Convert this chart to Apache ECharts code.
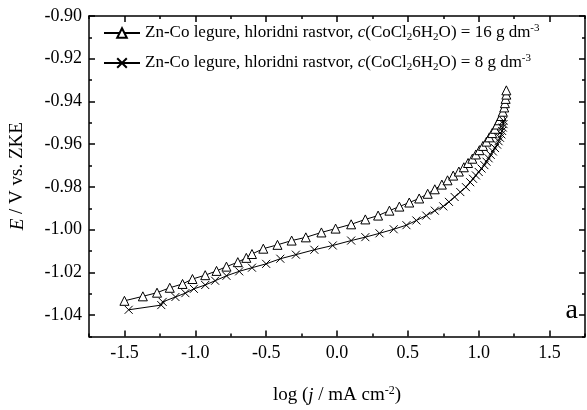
<!DOCTYPE html>
<html><head><meta charset="utf-8">
<script src="https://cdn.jsdelivr.net/npm/echarts@6/dist/echarts.min.js"></script>
<style>html,body{margin:0;padding:0;background:#fff}#c{width:587px;height:410px}</style>
</head><body><div id="c"></div>
<script>
const xMajorTicks = [-1.5, -1.0, -0.5, 0.0, 0.5, 1.0, 1.5];
const yMajorTicks = [-1.04, -1.02, -1.00, -0.98, -0.96, -0.94, -0.92, -0.90];
const seriesNames = [
  'Zn-Co legure, hloridni rastvor, {i|c}(CoCl{sub|2}6H{sub|2}O) = 16 g dm{sup|-3}',
  'Zn-Co legure, hloridni rastvor, {i|c}(CoCl{sub|2}6H{sub|2}O) = 8 g dm{sup|-3}'
];
const tri16 = [[-1.50,-1.0333],[-1.37,-1.0312],[-1.27,-1.0295],[-1.18,-1.0272],[-1.09,-1.0254],[-1.02,-1.0231],[-0.93,-1.0213],[-0.85,-1.0193],[-0.78,-1.0173],[-0.70,-1.0152],[-0.64,-1.0132],[-0.60,-1.0114],[-0.52,-1.0089],[-0.42,-1.0071],[-0.32,-1.0051],[-0.22,-1.0036],[-0.11,-1.0013],[-0.01,-0.9995],[0.10,-0.9975],[0.20,-0.9952],[0.29,-0.9934],[0.37,-0.9911],[0.44,-0.9892],[0.51,-0.9873],[0.58,-0.9854],[0.64,-0.9832],[0.69,-0.9811],[0.74,-0.9789],[0.78,-0.9769],[0.82,-0.9747],[0.86,-0.9728],[0.895,-0.9708],[0.925,-0.9688],[0.955,-0.9668],[0.98,-0.9648],[1.005,-0.9628],[1.03,-0.9608],[1.055,-0.9588],[1.075,-0.9568],[1.095,-0.9548],[1.115,-0.9528],[1.13,-0.9508],[1.145,-0.9488],[1.16,-0.9468],[1.17,-0.9448],[1.18,-0.9428],[1.185,-0.9408],[1.19,-0.9388],[1.195,-0.9368],[1.195,-0.9348]];
const x8 = [[-1.47,-1.0375],[-1.24,-1.0353],[-1.23,-1.0338],[-1.14,-1.0315],[-1.07,-1.0297],[-1.01,-1.0277],[-0.93,-1.0259],[-0.86,-1.0239],[-0.78,-1.0216],[-0.69,-1.0195],[-0.60,-1.0178],[-0.50,-1.0160],[-0.40,-1.0136],[-0.29,-1.0117],[-0.16,-1.0094],[-0.03,-1.0074],[0.10,-1.0051],[0.20,-1.0035],[0.30,-1.0017],[0.40,-0.9998],[0.49,-0.9979],[0.56,-0.9957],[0.63,-0.9934],[0.69,-0.9911],[0.75,-0.9891],[0.79,-0.9870],[0.83,-0.9847],[0.87,-0.9824],[0.91,-0.9801],[0.94,-0.9778],[0.96,-0.9762],[0.98,-0.9746],[1.00,-0.9730],[1.02,-0.9714],[1.04,-0.9698],[1.055,-0.9682],[1.07,-0.9666],[1.085,-0.9650],[1.10,-0.9634],[1.115,-0.9618],[1.13,-0.9602],[1.14,-0.9586],[1.15,-0.9570],[1.16,-0.9554],[1.165,-0.9538],[1.17,-0.9522],[1.175,-0.9506],[1.175,-0.9490]];
const panelLabel = 'a';

const FONT = '"Liberation Serif","Times New Roman",serif';
const rich = {
  i: {fontFamily: FONT, fontSize: 17, fontStyle: 'italic', color: '#000'},
  sub: {fontFamily: FONT, fontSize: 11, color: '#000', padding: [9, 0, 0, 0]},
  sup: {fontFamily: FONT, fontSize: 11, color: '#000', padding: [0, 0, 9, 0]},
  n: {fontFamily: FONT, fontSize: 18, color: '#000'}
};
const richTitle = {
  i: {fontFamily: FONT, fontSize: 19, fontStyle: 'italic', color: '#000'},
  n: {fontFamily: FONT, fontSize: 19, color: '#000'},
  sup: {fontFamily: FONT, fontSize: 12, color: '#000', padding: [0, 0, 10, 0]}
};
const lineStyle = {color: '#000', width: 1.5};
const xMin = -1.75, xMax = 1.75, yMin = -1.05, yMax = -0.90;
function xAx(pos, major, labels) {
  return {
    type: 'value', min: xMin, max: xMax, position: pos, gridIndex: 0,
    interval: major ? 0.5 : 0.25,
    axisLine: {show: major, lineStyle: lineStyle, onZero: false},
    axisTick: major ? {show: true, inside: true, length: 6, lineStyle: lineStyle, customValues: xMajorTicks}
                    : {show: true, inside: true, length: 3, lineStyle: lineStyle},
    axisLabel: labels ? {show: true, customValues: xMajorTicks, formatter: v => v.toFixed(1), fontFamily: FONT, fontSize: 18, color: '#000', margin: 8} : {show: false},
    splitLine: {show: false}
  };
}
function yAx(pos, major, labels) {
  return {
    type: 'value', min: yMin, max: yMax, position: pos, gridIndex: 0,
    interval: major ? 0.02 : 0.01,
    axisLine: {show: major, lineStyle: lineStyle, onZero: false},
    axisTick: major ? {show: true, inside: true, length: 6, lineStyle: lineStyle, customValues: yMajorTicks}
                    : {show: true, inside: true, length: 3, lineStyle: lineStyle},
    axisLabel: labels ? {show: true, customValues: yMajorTicks, formatter: v => v.toFixed(2), fontFamily: FONT, fontSize: 18, color: '#000', margin: 7} : {show: false},
    splitLine: {show: false}
  };
}
const xAxes = [xAx('bottom', true, true), xAx('bottom', false, false), xAx('top', true, false), xAx('top', false, false)];
xAxes[0].name = '{n|log (}{i|j}{n| / mA cm}{sup|-2}{n|)}';
xAxes[0].nameLocation = 'middle';
xAxes[0].nameGap = 48;
xAxes[0].nameTextStyle = {rich: richTitle};
const yAxes = [yAx('left', true, true), yAx('left', false, false), yAx('right', true, false), yAx('right', false, false)];
yAxes[0].name = '{i|E}{n| / V vs. ZKE}';
yAxes[0].nameLocation = 'middle';
yAxes[0].nameGap = 62;
yAxes[0].nameTextStyle = {rich: richTitle};

const chart = echarts.init(document.getElementById('c'), null, {renderer: 'canvas'});
chart.setOption({
  animation: false,
  backgroundColor: '#fff',
  grid: {left: 87, right: 2, top: 16, bottom: 67, containLabel: false},
  xAxis: xAxes,
  yAxis: yAxes,
  legend: {
    orient: 'vertical', left: 98, top: 18, itemGap: 10, itemWidth: 36, itemHeight: 12,
    textStyle: {fontFamily: FONT, fontSize: 17, color: '#000', rich: rich},
    data: [seriesNames[0], seriesNames[1]]
  },
  graphic: [{
    type: 'text', right: 9, top: 297,
    style: {text: panelLabel, font: '28px ' + FONT, fill: '#000'}
  }],
  series: [
    {
      name: seriesNames[0], type: 'line', data: tri16, xAxisIndex: 0, yAxisIndex: 0,
      symbol: 'triangle', symbolSize: 9, showSymbol: true,
      lineStyle: {color: '#000', width: 1},
      itemStyle: {color: '#fff', borderColor: '#000', borderWidth: 1}
    },
    {
      name: seriesNames[1], type: 'line', data: x8, xAxisIndex: 0, yAxisIndex: 0,
      symbol: 'path://M0,0L10,10M10,0L0,10', symbolSize: 8, showSymbol: true,
      lineStyle: {color: '#000', width: 1},
      itemStyle: {color: 'none', borderColor: '#000', borderWidth: 1}
    }
  ]
});
</script></body></html>
